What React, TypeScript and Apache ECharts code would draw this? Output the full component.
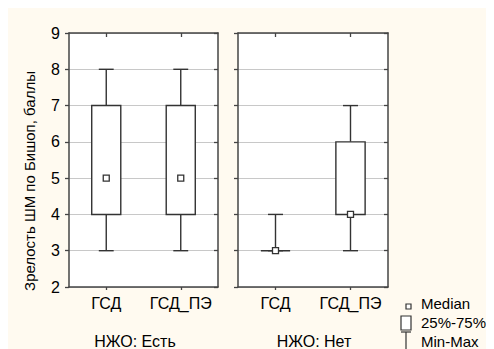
import React, { useEffect, useRef } from "react";
import * as echarts from "echarts";

// Groups on the category axis
const categories = ["ГСД", "ГСД_ПЭ"];
const yTicks = [2, 3, 4, 5, 6, 7, 8, 9];

// Panel titles
const panelTitles = ["НЖО: Есть", "НЖО: Нет"];

// Box statistics per panel: [min, q1, median, q3, max] for each category
const statsEst = [
  [3, 4, 5, 7, 8],
  [3, 4, 5, 7, 8],
];
const statsNet = [
  [3, 3, 3, 3, 4],
  [3, 4, 4, 6, 7],
];

const yTitle = "Зрелость ШМ по Бишоп, баллы";
const legendLabels = ["Median", "25%-75%", "Min-Max"];

const FONT = "Liberation Sans, Arial, sans-serif";
const INK = "#333";
const FRAME = "#444";
const TEXT = "#000";

const renderBox = (_params: any, api: any) => {
  const idx = api.value(0);
  const lo = api.value(1);
  const q1 = api.value(2);
  const med = api.value(3);
  const q3 = api.value(4);
  const hi = api.value(5);
  const band = api.size([1, 0])[0];
  const boxW = band * 0.39;
  const capW = band * 0.2;
  const [x, yLo] = api.coord([idx, lo]);
  const yQ1 = api.coord([idx, q1])[1];
  const yMed = api.coord([idx, med])[1];
  const yQ3 = api.coord([idx, q3])[1];
  const yHi = api.coord([idx, hi])[1];
  const ls = { stroke: INK, lineWidth: 1.4, fill: null };
  return {
    type: "group",
    children: [
      { type: "line", shape: { x1: x, y1: yLo, x2: x, y2: yQ1 }, style: ls },
      { type: "line", shape: { x1: x, y1: yQ3, x2: x, y2: yHi }, style: ls },
      { type: "line", shape: { x1: x - capW / 2, y1: yLo, x2: x + capW / 2, y2: yLo }, style: ls },
      { type: "line", shape: { x1: x - capW / 2, y1: yHi, x2: x + capW / 2, y2: yHi }, style: ls },
      {
        type: "rect",
        shape: { x: x - boxW / 2, y: yQ3, width: boxW, height: yQ1 - yQ3 },
        style: { fill: "#fff", stroke: INK, lineWidth: 1.4 },
      },
      {
        type: "rect",
        shape: { x: x - 3, y: yMed - 3, width: 6, height: 6 },
        style: { fill: "#fff", stroke: INK, lineWidth: 1.3 },
      },
    ],
  };
};

const toRows = (stats: number[][]) => stats.map((s, i) => [i, ...s]);

export default function App() {
  const ref = useRef<HTMLDivElement>(null);

  useEffect(() => {
    document.documentElement.style.overflow = "hidden";
    const chart = echarts.init(ref.current!, null, { renderer: "svg" });

    const grids = [
      { left: 61, top: 25, width: 149, height: 254 },
      { left: 230, top: 25, width: 150, height: 254 },
    ];

    const yAxes: any[] = [];
    const xAxes: any[] = [];
    grids.forEach((_, g) => {
      yAxes.push({
        gridIndex: g,
        type: "value",
        position: "left",
        min: yTicks[0],
        max: yTicks[yTicks.length - 1],
        interval: 1,
        axisLine: { show: true, lineStyle: { color: FRAME, width: 1.5 } },
        axisTick: { show: true, length: 4, lineStyle: { color: FRAME, width: 1.3 } },
        axisLabel: {
          show: g === 0,
          fontSize: 16,
          color: TEXT,
          fontFamily: FONT,
          margin: 9,
        },
        splitLine: { show: true, lineStyle: { color: "#c8c8c8", width: 1 } },
      });
      yAxes.push({
        gridIndex: g,
        type: "value",
        position: "right",
        min: yTicks[0],
        max: yTicks[yTicks.length - 1],
        interval: 1,
        axisLine: { show: true, lineStyle: { color: FRAME, width: 1.5 } },
        axisTick: { show: true, inside: true, length: 4, lineStyle: { color: FRAME, width: 1.3 } },
        axisLabel: { show: false },
        splitLine: { show: false },
      });
      xAxes.push({
        gridIndex: g,
        type: "category",
        position: "bottom",
        data: categories,
        axisLine: { show: true, lineStyle: { color: FRAME, width: 1.5 } },
        axisTick: { show: true, alignWithLabel: true, length: 3, lineStyle: { color: FRAME, width: 1.3 } },
        axisLabel: { interval: 0, fontSize: 16, color: TEXT, fontFamily: FONT, margin: 8 },
        splitLine: { show: false },
      });
      xAxes.push({
        gridIndex: g,
        type: "category",
        position: "top",
        data: categories,
        axisLine: { show: true, lineStyle: { color: FRAME, width: 1.5 } },
        axisTick: { show: true, inside: true, alignWithLabel: true, length: 4, lineStyle: { color: FRAME, width: 1.3 } },
        axisLabel: { show: false },
        splitLine: { show: false },
      });
    });

    const legendX = 393;
    const labelStyle = { fontSize: 16, fontFamily: FONT, fill: TEXT, verticalAlign: "middle" };
    chart.setOption({
      animation: false,
      backgroundColor: "#FFFAF0",
      grid: grids.map((gr) => ({ ...gr, show: true, backgroundColor: "#fff", borderWidth: 0 })),
      xAxis: xAxes,
      yAxis: yAxes,
      series: [
        {
          type: "custom",
          xAxisIndex: 0,
          yAxisIndex: 0,
          renderItem: renderBox,
          encode: { x: 0, y: [1, 2, 3, 4, 5] },
          data: toRows(statsEst),
          z: 5,
        },
        {
          type: "custom",
          xAxisIndex: 2,
          yAxisIndex: 2,
          renderItem: renderBox,
          encode: { x: 0, y: [1, 2, 3, 4, 5] },
          data: toRows(statsNet),
          z: 5,
        },
      ],
      graphic: [
        {
          type: "text",
          x: 21,
          y: 173,
          rotation: Math.PI / 2,
          style: {
            text: yTitle,
            fontSize: 15,
            fontFamily: FONT,
            fill: TEXT,
            align: "center",
            verticalAlign: "middle",
          },
        },
        {
          type: "text",
          x: 127,
          y: 333,
          style: { ...labelStyle, text: panelTitles[0], align: "center" },
        },
        {
          type: "text",
          x: 306,
          y: 333,
          style: { ...labelStyle, text: panelTitles[1], align: "center" },
        },
        // legend glyphs
        {
          type: "rect",
          shape: { x: legendX + 5, y: 296, width: 5, height: 5 },
          style: { fill: "#fff", stroke: INK, lineWidth: 1.2 },
        },
        {
          type: "rect",
          shape: { x: legendX, y: 308, width: 10, height: 14 },
          style: { fill: "#fff", stroke: INK, lineWidth: 1.2 },
        },
        {
          type: "line",
          shape: { x1: legendX, y1: 324, x2: legendX + 10, y2: 324 },
          style: { stroke: INK, lineWidth: 1.2 },
        },
        {
          type: "line",
          shape: { x1: legendX + 5, y1: 324, x2: legendX + 5, y2: 341 },
          style: { stroke: INK, lineWidth: 1.2 },
        },
        ...legendLabels.map((t, i) => ({
          type: "text",
          x: 413,
          y: 295 + i * 19,
          style: { ...labelStyle, fontSize: 15, text: t, align: "left" },
        })),
      ],
    });
    return () => chart.dispose();
  }, []);

  return <div ref={ref} style={{ width: 486, height: 341 }} />;
}
